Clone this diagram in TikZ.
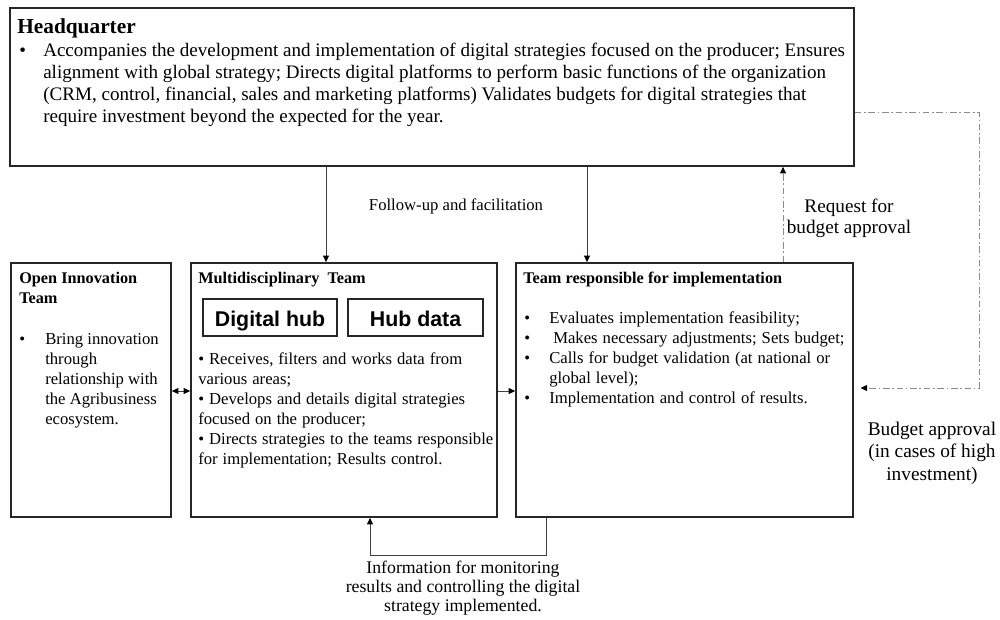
\documentclass[tikz,border=0pt]{standalone}
\usepackage{fontspec}
\setmainfont{Liberation Serif}
\newfontfamily\hubfont{Liberation Sans}
\usetikzlibrary{arrows.meta,fit}
\tikzset{
  box/.style={draw=black!85, line width=1.2pt, inner sep=0pt},
  hubbox/.style={draw=black!85, line width=1.1pt, inner sep=0pt},
  conn/.style={draw=black!75, line width=0.75pt},
  tip/.style={-{Triangle[length=5pt,width=4.5pt,color=black]}},
  tips/.style={{Triangle[length=5pt,width=4.5pt,color=black]}-{Triangle[length=5pt,width=4.5pt,color=black]}},
  dd/.style={draw=black!45, line width=0.75pt, dash pattern=on 5pt off 2pt on 1.2pt off 2pt},
  txt/.style={anchor=base west, inner sep=0pt},
  ctxt/.style={anchor=base, inner sep=0pt},
}
\begin{document}
\begin{tikzpicture}[x=0.75pt,y=-0.75pt]
\useasboundingbox (0,0) rectangle (1000,619);
% boxes
\node[box, fit={(10,8) (854,166)}] (hq) {};
\node[box, fit={(11,263) (171,517)}] (open) {};
\node[box, fit={(191,263) (497,517)}] (multi) {};
\node[box, fit={(516,263) (853,517)}] (team) {};
\node[hubbox, fit={(203,299) (337,336)}] (dhub) {};
\node[hubbox, fit={(348,299) (483,336)}] (hdata) {};
\coordinate (yh) at (0,326);
\node[ctxt] (dhubt) at (dhub.center |- yh) {\hubfont\fontsize{16}{19}\selectfont\bfseries Digital hub};
\node[ctxt] (hdatat) at (hdata.center |- yh) {\hubfont\fontsize{16}{19}\selectfont\bfseries Hub data};
% headquarter text
\node[txt] (hqh) at (17,33) {\fontsize{16}{19}\selectfont\bfseries Headquarter};
\node[txt] (hqb) at (19,56) {\fontsize{14.3}{16.5}\selectfont •};
\node[txt] (hqx) at (43,56) {\parbox[t]{640pt}{\fontsize{14.3}{16.5}\selectfont
Accompanies the development and implementation of digital strategies focused on the producer; Ensures\\
alignment with global strategy; Directs digital platforms to perform basic functions of the organization\\
(CRM, control, financial, sales and marketing platforms) Validates budgets for digital strategies that\\
require investment beyond the expected for the year.}};
% open innovation
\node[txt] (oph) at (19,283) {\parbox[t]{150pt}{\fontsize{12.2}{15}\selectfont\bfseries Open Innovation\\Team}};
\node[txt] (opb) at (19,344) {\fontsize{12.5}{15}\selectfont •};
\node[txt] (opx) at (45,344) {\parbox[t]{100pt}{\fontsize{12.5}{15}\selectfont
Bring innovation\\ through\\ relationship with\\ the Agribusiness\\ ecosystem.}};
% multidisciplinary
\node[txt] (muh) at (198,283) {\fontsize{12.2}{15}\selectfont\bfseries Multidisciplinary\ \ Team};
\node[txt] (mux) at (198,364) {\parbox[t]{230pt}{\fontsize{12.5}{15}\selectfont\spaceskip=0.3em plus 0.1em
• Receives, filters and works data from\\
various areas;\\
• Develops and details digital strategies\\
focused on the producer;\\
• Directs strategies to the teams responsible\\
for implementation; Results control.}};
% team responsible
\node[txt] (teh) at (523,283) {\fontsize{12.2}{15}\selectfont\bfseries Team responsible for implementation};
\node[txt] (teb1) at (524,323) {\fontsize{12.5}{15}\selectfont •};
\node[txt] (teb2) at (524,343) {\fontsize{12.5}{15}\selectfont •};
\node[txt] (teb3) at (524,363) {\fontsize{12.5}{15}\selectfont •};
\node[txt] (teb4) at (524,403) {\fontsize{12.5}{15}\selectfont •};
\node[txt] (tex) at (549,323) {\parbox[t]{240pt}{\fontsize{12.5}{15}\selectfont\spaceskip=0.3em plus 0.1em
Evaluates implementation feasibility;\\
\hspace*{3pt}Makes necessary adjustments; Sets budget;\\
Calls for budget validation (at national or\\
global level);\\
Implementation and control of results.}};
% labels
\node[ctxt] (fol) at (456,210) {\fontsize{12.5}{15}\selectfont Follow-up and facilitation};
\node[ctxt] (req) at (849,212) {\parbox[t]{110pt}{\centering\fontsize{14.4}{15.8}\selectfont Request for\\ budget approval}};
\node[ctxt] (bap) at (932,435) {\parbox[t]{110pt}{\centering\fontsize{14.5}{16.9}\selectfont Budget approval\\ (in cases of high\\ investment)}};
\node[ctxt] (inf) at (463,573) {\parbox[t]{200pt}{\centering\fontsize{13.3}{14.6}\selectfont Information for monitoring\\ results and controlling the digital\\ strategy implemented.}};
% coordinates
\coordinate (xa) at (326,0);
\coordinate (xb) at (587,0);
\coordinate (xr) at (783,0);
\coordinate (ym) at (0,391);
\coordinate (yd) at (0,112);
\coordinate (cr1) at (979,112);
\coordinate (cr2) at (979,388);
\coordinate (yb) at (0,388);
\coordinate (xl) at (546,0);
\coordinate (xm) at (370,0);
\coordinate (yl) at (0,555);
% connectors
\draw[conn,tip] (xa |- hq.south) -- (xa |- multi.north);
\draw[conn,tip] (xb |- hq.south) -- (xb |- team.north);
\draw[conn,tips] (open.east |- ym) -- (multi.west |- ym);
\draw[conn,tip] (multi.east |- ym) -- (team.west |- ym);
\draw[dd,tip] (xr |- team.north) -- (xr |- hq.south);
\draw[dd,tip,shorten >=5pt] (hq.east |- yd) -- (cr1) -- (cr2) -- (team.east |- yb);
\draw[conn,tip] (xl |- team.south) -- (xl |- yl) -- (xm |- yl) -- (xm |- multi.south);
\end{tikzpicture}
\end{document}
